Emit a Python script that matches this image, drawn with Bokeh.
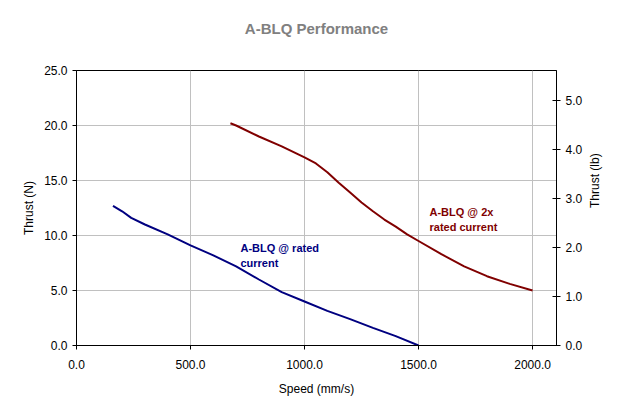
import math
from bokeh.plotting import figure
from bokeh.models import Range1d, LinearAxis, FixedTicker, NumeralTickFormatter, Label
from bokeh.embed import file_html
from bokeh.resources import INLINE

# Data
rated_speed = [160, 200, 240, 300, 400, 500, 600, 700, 800, 900, 1000, 1100, 1200, 1300, 1400, 1500]
rated_thrust = [12.7, 12.2, 11.6, 11.0, 10.1, 9.1, 8.2, 7.2, 6.0, 4.85, 4.0, 3.15, 2.4, 1.6, 0.85, 0.0]

x2_speed = [675, 700, 800, 900, 1000, 1050, 1100, 1150, 1200, 1250, 1300, 1350, 1400, 1450, 1500,
            1600, 1700, 1800, 1900, 2000]
x2_thrust = [20.2, 20.0, 19.0, 18.1, 17.1, 16.55, 15.75, 14.8, 13.9, 13.0, 12.2, 11.45, 10.8, 10.1, 9.5,
             8.3, 7.2, 6.3, 5.6, 5.0]

x_ticks = [0, 500, 1000, 1500, 2000]
y_ticks = [0, 5, 10, 15, 20, 25]
lb_ticks = [0, 1, 2, 3, 4, 5]
N_PER_LB = 4.448222
X_MAX = 2105
Y_MAX = 25

FONT = "Liberation Sans"

p = figure(width=625, height=416, output_backend="svg", toolbar_location=None,
           x_range=Range1d(0, X_MAX), y_range=Range1d(0, Y_MAX),
           min_border_left=76, min_border_right=69, min_border_top=70, min_border_bottom=71)

p.title.text = "A-BLQ Performance\n "
p.title.align = "center"
p.title.offset = -4
p.title.text_color = "#808080"
p.title.text_font = FONT
p.title.text_font_size = "15px"
p.title.text_font_style = "bold"
p.title.text_line_height = 1.68

p.extra_y_ranges = {"lb": Range1d(0, Y_MAX / N_PER_LB)}
p.background_fill_color = "white"
p.border_fill_color = "white"
p.outline_line_color = "black"
p.outline_line_alpha = 1.0

p.line(rated_speed, rated_thrust, line_color="#000080", line_width=2)
p.line(x2_speed, x2_thrust, line_color="#800000", line_width=2)

def style_axis(ax):
    ax.axis_line_color = "black"
    ax.major_tick_line_color = "black"
    ax.minor_tick_line_color = None
    ax.major_label_text_font = FONT
    ax.major_label_text_font_size = "12px"
    ax.major_label_text_color = "black"
    ax.axis_label_text_font = FONT
    ax.axis_label_text_font_size = "12px"
    ax.axis_label_text_font_style = "normal"
    ax.axis_label_text_color = "black"
    ax.formatter = NumeralTickFormatter(format="0.0")

xa = p.xaxis[0]
style_axis(xa)
xa.ticker = FixedTicker(ticks=x_ticks)
xa.axis_label = "Speed (mm/s)"
xa.major_tick_in = 0
xa.major_tick_out = 4
xa.major_label_standoff = 10
xa.axis_label_standoff = 10

ya = p.yaxis[0]
style_axis(ya)
ya.ticker = FixedTicker(ticks=y_ticks)
ya.axis_label = "Thrust (N)"
ya.major_tick_in = 0
ya.major_tick_out = 4
ya.major_label_standoff = 5
ya.axis_label_standoff = 5

ra = LinearAxis(y_range_name="lb")
style_axis(ra)
ra.ticker = FixedTicker(ticks=lb_ticks)
ra.axis_label = "Thrust (lb)"
ra.major_tick_in = 4
ra.major_tick_out = 4
ra.major_label_standoff = 5
ra.axis_label_standoff = 10
if "axis_label_orientation" in ra.properties():
    ra.axis_label_orientation = math.pi / 2
p.add_layout(ra, "right")

p.xgrid.ticker = FixedTicker(ticks=x_ticks)
p.ygrid.ticker = FixedTicker(ticks=y_ticks)
p.grid.grid_line_color = "#c0c0c0"
p.grid.grid_line_width = 1

lab1 = Label(x=719, y=9.4, text="A-BLQ @ rated\ncurrent", text_color="#000080",
             text_font=FONT, text_font_size="11px", text_font_style="bold",
             text_baseline="top", text_line_height=1.25)
lab2 = Label(x=1548, y=12.7, text="A-BLQ @ 2x\nrated current", text_color="#800000",
             text_font=FONT, text_font_size="11px", text_font_style="bold",
             text_baseline="top", text_line_height=1.25)
p.add_layout(lab1)
p.add_layout(lab2)

open("out.html", "w").write(file_html(p, INLINE))
